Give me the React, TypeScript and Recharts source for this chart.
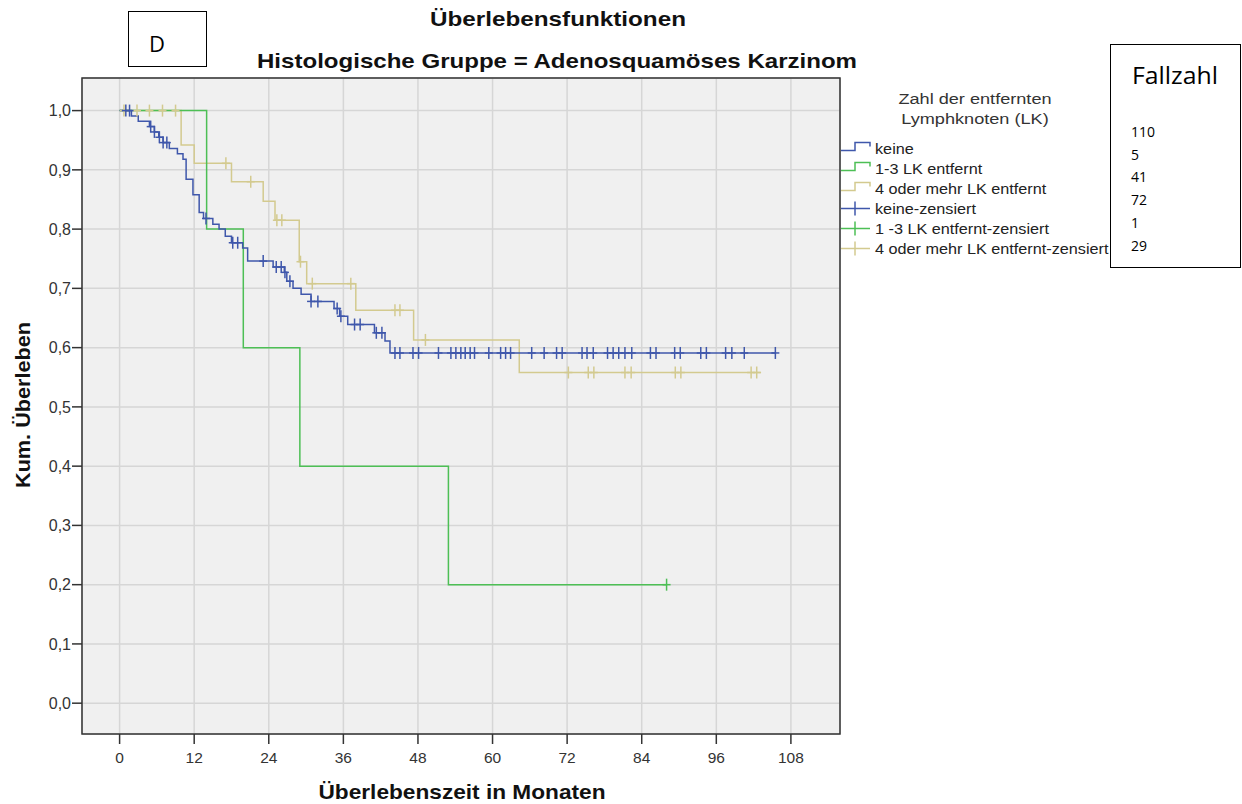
import React from 'react';
import {
  ComposedChart,
  Line,
  Scatter,
  XAxis,
  YAxis,
  CartesianGrid,
  ReferenceArea,
} from 'recharts';

const xTicks = [0, 12, 24, 36, 48, 60, 72, 84, 96, 108];
const yTicks = [0, 0.1, 0.2, 0.3, 0.4, 0.5, 0.6, 0.7, 0.8, 0.9, 1.0];

// keine (n=110)
const keineTimes = [0, 1.9, 3.0, 4.8, 5.6, 6.3, 7.0, 8.0, 9.3, 10.2, 10.7, 11.8, 12.8, 13.5, 15.0, 16.0, 17.0, 18.0, 19.8, 20.6, 24.7, 26.5, 26.9, 27.9, 29.2, 30.8, 34.5, 35.4, 36.7, 41.0, 42.7, 43.5];
const keineSurv = [1.0, 0.991, 0.982, 0.973, 0.964, 0.955, 0.946, 0.936, 0.927, 0.918, 0.884, 0.858, 0.828, 0.818, 0.808, 0.8, 0.788, 0.777, 0.768, 0.746, 0.736, 0.727, 0.712, 0.7, 0.69, 0.678, 0.666, 0.653, 0.639, 0.625, 0.611, 0.591];
const keineEnd = 105.5;
const keineCensored = [1.0, 1.6, 5.0, 5.6, 6.4, 7.0, 7.6, 13.9, 18.2, 19.0, 23.1, 25.2, 26.0, 26.6, 27.4, 30.8, 31.9, 35.0, 35.6, 37.8, 38.7, 41.3, 42.2, 44.3, 45.1, 47.2, 48.1, 51.3, 53.3, 54.1, 54.9, 55.6, 56.4, 57.1, 59.4, 61.3, 62.1, 62.9, 66.3, 68.3, 70.3, 71.2, 74.4, 75.2, 76.2, 78.5, 79.4, 80.3, 81.3, 82.4, 85.4, 86.3, 89.3, 90.2, 93.5, 94.4, 97.5, 98.5, 100.5, 105.5];

// 1-3 LK entfernt (n=5)
const lk13Times = [0, 14.0, 19.9, 29.0, 52.9];
const lk13Surv = [1.0, 0.8, 0.6, 0.4, 0.2];
const lk13End = 88.0;
const lk13Censored = [88.0];

// 4 oder mehr LK entfernt (n=41)
const lk4Times = [0, 9.9, 12.0, 18.0, 23.1, 25.0, 28.9, 30.1, 38.0, 47.3, 64.3];
const lk4Surv = [1.0, 0.942, 0.911, 0.88, 0.847, 0.815, 0.745, 0.708, 0.663, 0.613, 0.558];
const lk4End = 103.2;
const lk4Censored = [0.7, 2.8, 4.8, 6.9, 9.0, 17.1, 21.1, 25.3, 26.1, 29.1, 31.0, 37.2, 44.3, 45.1, 49.2, 72.2, 75.4, 76.3, 81.3, 82.3, 89.4, 90.3, 101.6, 102.5];

const fallzahl = ['110', '5', '41', '72', '1', '29'];

const BLUE = '#3f57ab';
const GREEN = '#4dbf55';
const BEIGE = '#d3ca8f';
const FONT = '"Liberation Sans", Arial, sans-serif';
const X_DOMAIN = [-6.05, 115.9];
const Y_DOMAIN = [-0.052, 1.055];

const stepData = (times: number[], surv: number[], end: number) => {
  const d = times.map((t, i) => ({ t, s: surv[i] }));
  d.push({ t: end, s: surv[surv.length - 1] });
  return d;
};

const survAt = (times: number[], surv: number[], t: number) => {
  let s = surv[0];
  for (let i = 0; i < times.length; i++) if (times[i] <= t) s = surv[i];
  return s;
};

const censorData = (times: number[], surv: number[], cens: number[]) =>
  cens.map((t) => ({ t, s: survAt(times, surv, t) }));

const censorShape = (color: string) => (props: any) => {
  const { cx, cy } = props;
  return (
    <g>
      <line x1={cx} x2={cx} y1={cy - 6} y2={cy + 6} stroke={color} strokeWidth={1.5} />
      <line x1={cx - 4} x2={cx + 4} y1={cy} y2={cy} stroke={color} strokeWidth={1.5} />
    </g>
  );
};

const legendItems = [
  { label: 'keine', color: BLUE, kind: 'step' },
  { label: '1-3 LK entfernt', color: GREEN, kind: 'step' },
  { label: '4 oder mehr LK entfernt', color: BEIGE, kind: 'step' },
  { label: 'keine-zensiert', color: BLUE, kind: 'cens' },
  { label: '1 -3 LK entfernt-zensiert', color: GREEN, kind: 'cens' },
  { label: '4 oder mehr LK entfernt-zensiert', color: BEIGE, kind: 'cens' },
];

const fmtY = (v: number) => v.toFixed(1).replace('.', ',');

export default function App() {
  return (
    <div style={{ position: 'absolute', left: 0, top: 0, width: 1242, height: 804, background: '#fff' }}>
      <ComposedChart
        width={1242}
        height={804}
        margin={{ top: 78, right: 402, bottom: 40, left: 22 }}
      >
        <CartesianGrid fill="#f0f0f0" stroke="#d6d6d6" strokeWidth={1.5} />
        <XAxis
          type="number"
          dataKey="t"
          domain={X_DOMAIN}
          ticks={xTicks}
          allowDataOverflow
          height={30}
          axisLine={false}
          tickSize={10}
          tickMargin={8}
          tickLine={{ stroke: '#333', strokeWidth: 1.5 }}
          tick={{ fill: '#333', fontSize: 15.5, fontFamily: FONT }}
        />
        <YAxis
          type="number"
          dataKey="s"
          domain={Y_DOMAIN}
          ticks={yTicks}
          allowDataOverflow
          width={60}
          axisLine={false}
          tickSize={10}
          tickMargin={1}
          tickLine={{ stroke: '#333', strokeWidth: 1.5 }}
          tickFormatter={fmtY}
          tick={{ fill: '#333', fontSize: 16, fontFamily: FONT }}
        />
        <ReferenceArea x1={X_DOMAIN[0]} x2={X_DOMAIN[1]} y1={Y_DOMAIN[0]} y2={Y_DOMAIN[1]} fill="none" stroke="#333" strokeWidth={1.5} ifOverflow="visible" />
        <Line data={stepData(lk4Times, lk4Surv, lk4End)} dataKey="s" type="stepAfter" stroke={BEIGE} strokeWidth={1.5} dot={false} isAnimationActive={false} />
        <Line data={stepData(lk13Times, lk13Surv, lk13End)} dataKey="s" type="stepAfter" stroke={GREEN} strokeWidth={1.5} dot={false} isAnimationActive={false} />
        <Line data={stepData(keineTimes, keineSurv, keineEnd)} dataKey="s" type="stepAfter" stroke={BLUE} strokeWidth={1.5} dot={false} isAnimationActive={false} />
        <Scatter data={censorData(lk4Times, lk4Surv, lk4Censored)} dataKey="s" shape={censorShape(BEIGE)} isAnimationActive={false} />
        <Scatter data={censorData(lk13Times, lk13Surv, lk13Censored)} dataKey="s" shape={censorShape(GREEN)} isAnimationActive={false} />
        <Scatter data={censorData(keineTimes, keineSurv, keineCensored)} dataKey="s" shape={censorShape(BLUE)} isAnimationActive={false} />
      </ComposedChart>

      <svg width={1242} height={804} style={{ position: 'absolute', left: 0, top: 0, pointerEvents: 'none' }}>
        {/* titles */}
        <text x={558} y={26} textAnchor="middle" fontFamily={FONT} fontWeight="bold" fontSize={21} fill="#111" textLength={256} lengthAdjust="spacingAndGlyphs">
          Überlebensfunktionen
        </text>
        <text x={557} y={68} textAnchor="middle" fontFamily={FONT} fontWeight="bold" fontSize={21} fill="#111" textLength={600} lengthAdjust="spacingAndGlyphs">
          Histologische Gruppe = Adenosquamöses Karzinom
        </text>
        <text x={462} y={799} textAnchor="middle" fontFamily={FONT} fontWeight="bold" fontSize={21} fill="#111" textLength={287} lengthAdjust="spacingAndGlyphs">
          Überlebenszeit in Monaten
        </text>
        <text x={30} y={405} textAnchor="middle" fontFamily={FONT} fontWeight="bold" fontSize={21} fill="#111" textLength={166} lengthAdjust="spacingAndGlyphs" transform="rotate(-90 30 405)">
          Kum. Überleben
        </text>

        {/* panel letter */}
        <rect x={128.5} y={11.5} width={78} height={55} fill="#fff" stroke="#000" strokeWidth={1} />
        <text x={157} y={52} textAnchor="middle" fontFamily='"Open Sans", sans-serif' fontSize={22} fill="#000">D</text>

        {/* legend */}
        <g transform="translate(975 0) scale(1.17 1)">
          <text x={0} y={104} textAnchor="middle" fontFamily={FONT} fontSize={15.5} fill="#333">Zahl der entfernten</text>
          <text x={0} y={124} textAnchor="middle" fontFamily={FONT} fontSize={15.5} fill="#333">Lymphknoten (LK)</text>
        </g>
        {legendItems.map((it, i) => {
          const y = 148.5 + i * 20;
          return (
            <g key={it.label}>
              {it.kind === 'step' ? (
                <polyline
                  points={`841,${y + 2} 855,${y + 2} 855,${y - 6} 870,${y - 6} 870,${y - 2}`}
                  fill="none"
                  stroke={it.color}
                  strokeWidth={1.5}
                />
              ) : (
                <g>
                  <line x1={841} x2={870} y1={y} y2={y} stroke={it.color} strokeWidth={1.5} />
                  <line x1={855} x2={855} y1={y - 7} y2={y + 7} stroke={it.color} strokeWidth={1.5} />
                </g>
              )}
              <g transform={`translate(875 ${y + 5}) scale(1.12 1)`}>
                <text x={0} y={0} fontFamily={FONT} fontSize={14.5} fill="#222">{it.label}</text>
              </g>
            </g>
          );
        })}

        {/* case counts */}
        <rect x={1110.5} y={44.5} width={130} height={223} fill="#fff" stroke="#000" strokeWidth={1} />
        <text x={1132} y={84} fontFamily='"Open Sans", sans-serif' fontSize={24} fill="#000" textLength={86} lengthAdjust="spacingAndGlyphs">Fallzahl</text>
        {fallzahl.map((n, i) => (
          <text key={i} x={1131} y={137 + i * 22.7} fontFamily='"Open Sans", sans-serif' fontSize={14} fill="#000">{n}</text>
        ))}
      </svg>
    </div>
  );
}
